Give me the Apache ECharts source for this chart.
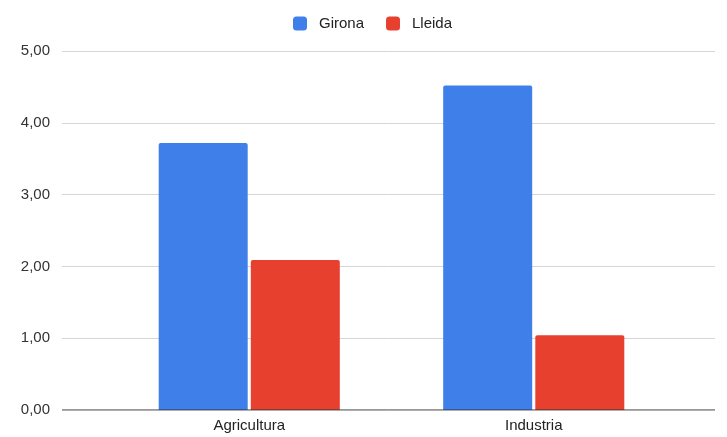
<!DOCTYPE html>
<html>
<head>
    <meta charset="utf-8">
    <title>Girona - Lleida</title>
    <script src="https://cdn.jsdelivr.net/npm/echarts@6/dist/echarts.min.js"></script>
    <style>
        html, body { margin: 0; padding: 0; background: #fff; }
        #chart { width: 727px; height: 437px; }
    </style>
</head>
<body>
<div id="chart"></div>
<script type="text/javascript">
    // data
    var categories = ['Agricultura', 'Industria'];
    var girona = [3.72, 4.52];
    var lleida = [2.09, 1.04];
    var yMin = 0, yMax = 5, yStep = 1;

    var myChart = echarts.init(document.getElementById('chart'));
    var font = 'Liberation Sans, Arial, sans-serif';

    myChart.setOption({
        backgroundColor: '#ffffff',
        animation: false,
        legend: {
            top: 11,
            left: 288,
            itemWidth: 14,
            itemHeight: 14,
            itemGap: 22,
            icon: 'roundRect',
            textStyle: { fontFamily: font, fontSize: 15, color: '#222', padding: [0, 0, 0, 7] },
            data: ['Girona', 'Lleida']
        },
        // grid 0 only carries the gridlines and y labels, grid 1 holds the bars
        grid: [
            { left: 62, right: 12, top: 51, bottom: 27 },
            { left: 107, right: 51, top: 51, bottom: 27 }
        ],
        xAxis: [
            {
                gridIndex: 0, type: 'value', min: 0, max: 1,
                show: true,
                axisLine: { show: false }, axisTick: { show: false },
                axisLabel: { show: false }, splitLine: { show: false }
            },
            {
                gridIndex: 1, type: 'category', data: categories,
                axisLine: { show: false },
                axisTick: { show: false },
                axisLabel: { fontFamily: font, fontSize: 15, color: '#222', margin: 8 }
            }
        ],
        yAxis: [
            {
                gridIndex: 0, type: 'value', min: yMin, max: yMax, interval: yStep,
                axisLine: { show: false },
                axisTick: { show: false },
                axisLabel: {
                    fontFamily: font, fontSize: 15, color: '#333', margin: 12,
                    formatter: function (v) { return v.toFixed(2).replace('.', ','); }
                },
                splitLine: { lineStyle: { color: '#d6d6d6', width: 1 } }
            },
            {
                gridIndex: 1, type: 'value', min: yMin, max: yMax, interval: yStep,
                show: false
            }
        ],
        series: [
            {
                name: 'Girona',
                type: 'bar',
                xAxisIndex: 1, yAxisIndex: 1,
                data: girona,
                barWidth: 89,
                barGap: '3.5%',
                itemStyle: { color: '#3f7fe9', borderRadius: [2, 2, 0, 0] }
            },
            {
                name: 'Lleida',
                type: 'bar',
                xAxisIndex: 1, yAxisIndex: 1,
                data: lleida,
                barWidth: 89,
                itemStyle: { color: '#e8402f', borderRadius: [2, 2, 0, 0] }
            },
            {
                // baseline at zero across the full width
                type: 'line',
                xAxisIndex: 0, yAxisIndex: 0,
                data: [[0, 0], [1, 0]],
                symbol: 'none',
                silent: true,
                lineStyle: { color: '#333', width: 1 },
                z: 5
            }
        ]
    });
</script>
</body>
</html>
